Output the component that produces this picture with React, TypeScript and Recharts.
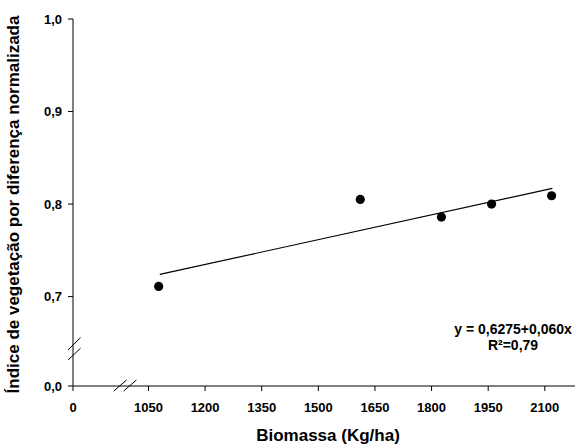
import {
    ComposedChart,
    Line,
    ReferenceLine,
    Scatter,
    XAxis,
    YAxis,
} from 'recharts';

// biomass (kg/ha) and NDVI
const biomass = [1077, 1611, 1826, 1959, 2118];
const ndvi = [0.711, 0.805, 0.786, 0.8, 0.809];

// fitted line, drawn between its two end points
const trendX = [1080, 2120];
const trendY = [0.724, 0.817];

const xTicks = [1050, 1200, 1350, 1500, 1650, 1800, 1950, 2100];
const yTicks = [0.7, 0.8, 0.9, 1.0];

// both axes are broken: "0" sits just before the visible range
const X_ZERO = 850;
const Y_ZERO = 0.6034;

const points = biomass.map((x, i) => ({ x, y: ndvi[i] }));
const trend = trendX.map((x, i) => ({ x, y: trendY[i] }));

// break marks (two slashes on each axis)
const xBreaks = [
    [958, 992],
    [984, 1018],
];
const yBreaks = [
    [0.6424, 0.6557],
    [0.6315, 0.6442],
];

const FONT = 'Arial, "Liberation Sans", sans-serif';
const tickStyle = { fill: '#000', fontSize: 13, fontWeight: 700, fontFamily: FONT };

function formatComma(value: number, digits: number) {
    return value.toFixed(digits).replace('.', ',');
}

export default function App() {
    return (
        <div style={{ position: 'relative', width: 580, height: 446, background: '#fff' }}>
            <style>{'body{margin:0}'}</style>
            <ComposedChart
                width={580}
                height={446}
                margin={{ top: 19, right: 5, bottom: 0, left: 0 }}
            >
                <XAxis
                    type="number"
                    dataKey="x"
                    domain={[X_ZERO, 2180]}
                    ticks={[X_ZERO, ...xTicks]}
                    tickFormatter={(v) => (v === X_ZERO ? '0' : String(v))}
                    height={60}
                    tickSize={5}
                    tickMargin={12}
                    stroke="#000"
                    tick={tickStyle}
                    allowDataOverflow
                    label={{
                        value: 'Biomassa (Kg/ha)',
                        position: 'insideBottom',
                        offset: 5,
                        dx: 4,
                        style: { fill: '#000', fontSize: 17, fontWeight: 700, fontFamily: FONT },
                    }}
                />
                <YAxis
                    type="number"
                    dataKey="y"
                    domain={[Y_ZERO, 1.0]}
                    ticks={[Y_ZERO, ...yTicks]}
                    tickFormatter={(v) => (v === Y_ZERO ? '0,0' : formatComma(v, 1))}
                    width={73}
                    tickSize={5}
                    tickMargin={6}
                    stroke="#000"
                    tick={tickStyle}
                    allowDataOverflow
                    label={{
                        value: 'Índice de vegetação por diferença normalizada',
                        angle: -90,
                        position: 'insideLeft',
                        offset: 13,
                        dy: 2,
                        style: {
                            fill: '#000',
                            fontSize: 17,
                            fontWeight: 700,
                            fontFamily: FONT,
                            textAnchor: 'middle',
                        },
                    }}
                />
                {xBreaks.map(([a, b], i) => (
                    <ReferenceLine
                        key={`xb${i}`}
                        segment={[
                            { x: a, y: 0.598 },
                            { x: b, y: 0.6099 },
                        ]}
                        stroke="#000"
                        ifOverflow="visible"
                    />
                ))}
                {yBreaks.map(([a, b], i) => (
                    <ReferenceLine
                        key={`yb${i}`}
                        segment={[
                            { x: 837, y: a },
                            { x: 870, y: b },
                        ]}
                        stroke="#000"
                        ifOverflow="visible"
                    />
                ))}
                <Line
                    data={trend}
                    dataKey="y"
                    stroke="#000"
                    strokeWidth={1.2}
                    dot={false}
                    activeDot={false}
                    isAnimationActive={false}
                />
                <Scatter
                    data={points}
                    dataKey="y"
                    isAnimationActive={false}
                    shape={(p: any) => <circle cx={p.cx} cy={p.cy} r={4.6} fill="#000" />}
                />
            </ComposedChart>
            <div
                style={{
                    position: 'absolute',
                    left: 433,
                    top: 321,
                    width: 160,
                    textAlign: 'center',
                    fontFamily: FONT,
                    fontWeight: 700,
                    fontSize: 14,
                    lineHeight: '16px',
                    color: '#000',
                }}
            >
                <div>y = 0,6275+0,060x</div>
                <div>R²=0,79</div>
            </div>
        </div>
    );
}
